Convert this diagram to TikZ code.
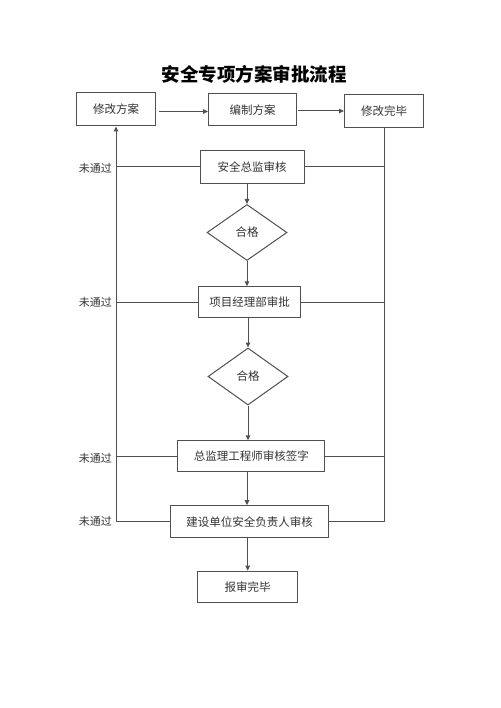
\documentclass[tikz,border=0pt]{standalone}
\usepackage{fontspec}
\newfontfamily\cjk{Noto Sans CJK SC}
\usetikzlibrary{shapes.geometric,arrows.meta}
\definecolor{lin}{HTML}{505050}
\definecolor{txt}{HTML}{333333}
\begin{document}
\begin{tikzpicture}[x=1pt,y=-1pt,
  box/.style={draw=lin,line width=1pt,rectangle,minimum width=#1,minimum height=32pt,inner sep=0pt,font=\cjk\fontsize{11.5}{14}\selectfont,text=txt},
  dia/.style={draw=lin,line width=1pt,diamond,aspect=1.4,minimum width=80pt,minimum height=56pt,inner sep=0pt,font=\cjk\fontsize{11.5}{14}\selectfont,text=txt},
  ln/.style={draw=lin,line width=1pt},
  arr/.style={ln,-{Triangle[length=5pt,width=4.5pt]}},
  lbl/.style={font=\cjk\fontsize{11}{13}\selectfont,text=txt,inner sep=0pt,anchor=east}]
\useasboundingbox (0,0) rectangle (500,708);
\fill[white] (0,0) rectangle (500,708);
\node[font=\cjk\bfseries\fontsize{18.5}{22}\selectfont,text=black] (title) at (254,74) {安全专项方案审批流程};
\node[box=79pt,minimum height=33pt] (b1) at (116,109.5) {修改方案};
\node[box=88pt] (b2) at (252.5,110) {编制方案};
\node[box=79pt,minimum height=33pt] (b3) at (384,111) {修改完毕};
\node[box=104pt,minimum height=33pt] (c1) at (252,167) {安全总监审核};
\node[dia] (d1) at (247,232.5) {合格};
\node[box=102pt,minimum height=31pt] (c2) at (249.5,302.3) {项目经理部审批};
\node[dia,minimum height=57pt] (d2) at (248,376.5) {合格};
\node[box=147pt,minimum height=31pt] (c3) at (251.3,456.3) {总监理工程师审核签字};
\node[box=158pt] (c4) at (249.5,521.7) {建设单位安全负责人审核};
\node[box=100pt,minimum height=31pt] (c5) at (247.7,586.7) {报审完毕};
% top row arrows
\draw[arr] (b1.east) ++(3,2) coordinate (a1) -- (a1 -| b2.west);
\draw[arr] (b2.east) ++(1,1) coordinate (a2) -- (a2 -| b3.west);
% vertical flow
\draw[arr] (c1.south -| d1.north) -- (d1.north);
\draw[arr] (d1.south) -- (d1.south |- c2.north);
\draw[arr] (c2.south -| d2.north) -- (d2.north);
\draw[arr] (d2.south) -- (d2.south |- c3.north);
\draw[arr] (c3.south -| d1.north) -- (c4.north -| d1.north);
\draw[arr] (c4.south -| c5.north) -- (c5.north);
% return loops
\draw[arr] (c4.west) -| (b1.south);
\draw[ln] (c4.east) -| (b3.south);
\draw[ln] (c1.west) -- (c1.west -| b1.south);
\draw[ln] (c1.east) -- (c1.east -| b3.south);
\draw[ln] (c2.west) -- (c2.west -| b1.south);
\draw[ln] (c2.east) -- (c2.east -| b3.south);
\draw[ln] (c3.west) -- (c3.west -| b1.south);
\draw[ln] (c3.east) -- (c3.east -| b3.south);
% labels
\node[lbl] (n1) at ([xshift=-4pt,yshift=-1.5pt]c1.west -| b1.south) {未通过};
\node[lbl] (n2) at ([xshift=-4pt,yshift=-0.5pt]c2.west -| b1.south) {未通过};
\node[lbl] (n3) at ([xshift=-4pt,yshift=-2.5pt]c3.west -| b1.south) {未通过};
\node[lbl] (n4) at ([xshift=-4pt]c4.west -| b1.south) {未通过};
\end{tikzpicture}
\end{document}
